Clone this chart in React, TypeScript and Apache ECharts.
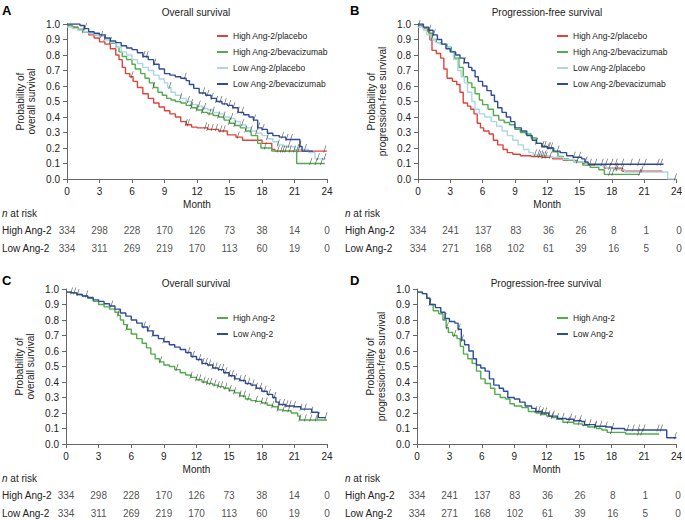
import React, { useEffect, useRef } from "react";
import * as echarts from "echarts";

type Pt = [number, number];

// ---------- tick labels / categories ----------
const monthTicks = [0, 3, 6, 9, 12, 15, 18, 21, 24];

// ---------- Panel A: overall survival by Ang-2 and treatment ----------
const osHighPlacebo: Pt[] = [[0,0.99],[0.5,0.98],[1,0.965],[1.5,0.95],[2,0.93],[2.5,0.91],[3,0.885],[3.5,0.87],[4,0.84],[4.5,0.80],[4.8,0.77],[5.1,0.72],[5.4,0.68],[5.8,0.66],[6.1,0.63],[6.5,0.59],[7,0.55],[7.5,0.52],[8,0.49],[8.5,0.465],[9,0.44],[9.5,0.42],[10,0.40],[10.5,0.37],[11,0.35],[11.5,0.335],[12,0.33],[13,0.32],[14,0.31],[14.8,0.285],[15.6,0.27],[16.2,0.25],[18,0.23],[18.9,0.19],[19.2,0.18],[24,0.18]];
const osHighBev: Pt[] = [[0,0.99],[0.5,0.98],[1,0.965],[1.5,0.95],[2,0.94],[2.5,0.93],[3,0.92],[3.5,0.90],[4,0.875],[4.5,0.85],[4.8,0.82],[5.1,0.79],[5.5,0.77],[6,0.74],[6.3,0.71],[6.8,0.68],[7.2,0.65],[7.6,0.62],[8,0.59],[8.4,0.56],[8.8,0.54],[9.2,0.52],[9.6,0.51],[10,0.50],[10.5,0.49],[11,0.475],[11.5,0.46],[12,0.445],[12.5,0.43],[13,0.42],[13.5,0.41],[14,0.40],[14.5,0.38],[15,0.36],[15.5,0.345],[16,0.33],[16.5,0.31],[17,0.28],[17.6,0.23],[17.9,0.20],[18.9,0.18],[21.2,0.10],[23.8,0.10]];
const osLowPlacebo: Pt[] = [[0,0.98],[0.5,0.97],[1,0.96],[1.5,0.95],[2,0.94],[2.5,0.93],[3,0.92],[3.5,0.90],[4,0.88],[4.5,0.85],[5,0.82],[5.5,0.80],[6,0.77],[6.5,0.745],[7,0.72],[7.5,0.70],[8,0.67],[8.5,0.645],[9,0.62],[9.3,0.59],[9.6,0.56],[10,0.54],[10.5,0.52],[11,0.50],[11.5,0.48],[12,0.47],[12.5,0.455],[13,0.445],[13.5,0.43],[14,0.42],[14.5,0.40],[15,0.39],[15.5,0.37],[16,0.35],[16.5,0.33],[17,0.31],[17.5,0.295],[18,0.28],[18.5,0.26],[19,0.24],[19.5,0.22],[20,0.21],[21,0.19],[22.3,0.17],[22.9,0.13],[23.9,0.13]];
const osLowBev: Pt[] = [[0,1.0],[1.2,0.99],[1.6,0.97],[2,0.95],[2.5,0.94],[3,0.93],[3.5,0.91],[4,0.89],[4.5,0.88],[5,0.86],[5.5,0.845],[6,0.835],[6.5,0.815],[7,0.79],[7.5,0.77],[8,0.74],[8.5,0.71],[9,0.68],[9.5,0.67],[10,0.66],[10.5,0.65],[11,0.635],[11.3,0.61],[11.7,0.585],[12.2,0.555],[12.8,0.54],[13.3,0.52],[13.8,0.50],[14.3,0.485],[14.8,0.475],[15.3,0.46],[15.8,0.43],[16.3,0.415],[16.8,0.40],[17.2,0.38],[17.6,0.33],[18,0.32],[18.5,0.295],[19,0.28],[19.6,0.27],[20.2,0.255],[21.5,0.21],[21.7,0.18],[22.7,0.18]];

// ---------- Panel B: progression-free survival by Ang-2 and treatment ----------
const pfsHighPlacebo: Pt[] = [[0,0.99],[0.5,0.975],[0.9,0.95],[1.1,0.90],[1.3,0.83],[1.7,0.81],[2.1,0.78],[2.4,0.71],[2.7,0.65],[3.2,0.63],[3.6,0.61],[3.9,0.56],[4.2,0.49],[4.6,0.47],[4.9,0.45],[5.2,0.42],[5.5,0.36],[5.8,0.33],[6.1,0.31],[6.6,0.29],[7.0,0.25],[7.4,0.22],[7.9,0.19],[8.3,0.17],[8.8,0.16],[9.5,0.15],[10.5,0.145],[11.5,0.14],[12.5,0.13],[13.5,0.12],[14.5,0.11],[15.3,0.10],[15.6,0.09],[17.3,0.07],[19,0.05],[22.7,0.05]];
const pfsHighBev: Pt[] = [[0,0.99],[0.5,0.97],[1,0.94],[1.3,0.90],[1.7,0.88],[2.2,0.87],[2.7,0.85],[3.1,0.82],[3.4,0.78],[3.8,0.72],[4.2,0.66],[4.6,0.62],[5,0.59],[5.3,0.55],[5.7,0.51],[6,0.48],[6.5,0.45],[7,0.41],[7.5,0.38],[8,0.365],[8.5,0.35],[9,0.32],[9.5,0.30],[10,0.29],[10.5,0.265],[11,0.23],[11.5,0.21],[12,0.20],[12.5,0.175],[13,0.145],[13.5,0.13],[14,0.12],[14.8,0.11],[15.3,0.09],[16,0.075],[16.8,0.06],[17.3,0.03],[20.6,0.03]];
const pfsLowPlacebo: Pt[] = [[0,0.98],[0.5,0.96],[0.8,0.93],[1.2,0.90],[1.6,0.88],[2.0,0.87],[2.6,0.85],[3.0,0.82],[3.3,0.77],[3.7,0.70],[4.0,0.66],[4.3,0.62],[4.6,0.56],[5.0,0.50],[5.3,0.45],[5.7,0.42],[6.2,0.40],[6.8,0.37],[7.3,0.34],[7.8,0.31],[8.3,0.28],[8.8,0.25],[9.3,0.22],[9.8,0.19],[10.3,0.17],[10.7,0.155],[11.5,0.15],[12.3,0.14],[13.5,0.125],[14.5,0.11],[15.5,0.095],[16.5,0.085],[17.5,0.07],[18.2,0.06],[19.2,0.045],[23.2,0.0],[24,0.0]];
const pfsLowBev: Pt[] = [[0,1.0],[0.5,0.98],[1,0.96],[1.4,0.93],[1.8,0.90],[2.2,0.87],[2.6,0.84],[3.0,0.82],[3.5,0.80],[3.9,0.78],[4.3,0.75],[4.7,0.72],[5.0,0.70],[5.3,0.66],[5.6,0.63],[6.0,0.60],[6.4,0.57],[6.8,0.54],[7.1,0.50],[7.4,0.46],[7.8,0.43],[8.2,0.40],[8.6,0.37],[9.0,0.33],[9.6,0.31],[10.1,0.28],[10.6,0.25],[11.0,0.23],[11.5,0.21],[12.0,0.20],[12.6,0.18],[13.2,0.17],[13.8,0.15],[14.4,0.14],[15.2,0.13],[15.5,0.11],[15.8,0.095],[22.8,0.095]];

// ---------- Panel C: overall survival by Ang-2 ----------
const osHigh: Pt[] = [[0,0.98],[0.5,0.975],[1,0.965],[1.5,0.955],[2,0.94],[2.5,0.92],[3,0.90],[3.5,0.885],[4,0.87],[4.5,0.85],[4.8,0.83],[5.0,0.80],[5.3,0.77],[5.6,0.74],[6,0.71],[6.5,0.68],[7,0.65],[7.4,0.62],[7.8,0.58],[8.2,0.55],[8.6,0.53],[9,0.51],[9.5,0.50],[10,0.48],[10.5,0.46],[11,0.445],[11.5,0.43],[12,0.415],[12.5,0.40],[13,0.39],[13.5,0.38],[14,0.37],[14.5,0.36],[15,0.345],[15.5,0.33],[16,0.31],[16.5,0.29],[17,0.28],[17.5,0.275],[18,0.265],[18.5,0.25],[19,0.24],[19.5,0.22],[20,0.215],[20.7,0.20],[21.3,0.18],[21.5,0.155],[24,0.155]];
const osLow: Pt[] = [[0,0.98],[0.5,0.975],[1,0.965],[1.5,0.955],[2,0.945],[2.5,0.93],[3,0.92],[3.5,0.905],[4,0.89],[4.5,0.87],[5,0.845],[5.5,0.825],[6,0.80],[6.5,0.78],[7,0.755],[7.5,0.73],[8,0.70],[8.5,0.68],[9,0.66],[9.5,0.64],[10,0.625],[10.5,0.61],[11,0.59],[11.5,0.565],[12,0.545],[12.5,0.52],[13,0.51],[13.5,0.49],[14,0.48],[14.5,0.46],[15,0.44],[15.5,0.42],[16,0.41],[16.5,0.39],[17,0.38],[17.5,0.36],[18,0.34],[18.5,0.32],[19,0.30],[19.3,0.27],[19.6,0.255],[20.2,0.245],[21,0.24],[21.6,0.225],[22.6,0.205],[23.2,0.17],[23.9,0.17]];

// ---------- Panel D: progression-free survival by Ang-2 ----------
const pfsHigh: Pt[] = [[0,0.98],[0.5,0.97],[0.9,0.94],[1.2,0.90],[1.5,0.86],[2,0.84],[2.4,0.80],[2.7,0.75],[2.9,0.72],[3.3,0.70],[3.7,0.68],[4,0.63],[4.3,0.58],[4.7,0.55],[5.1,0.52],[5.5,0.47],[5.9,0.42],[6.3,0.39],[6.8,0.36],[7.2,0.32],[7.7,0.30],[8.2,0.29],[8.6,0.26],[9.0,0.245],[9.7,0.235],[10.3,0.21],[11,0.20],[11.5,0.19],[12,0.18],[12.5,0.17],[13,0.16],[13.5,0.14],[14.5,0.13],[15.3,0.12],[15.8,0.11],[16.6,0.10],[17.1,0.09],[17.6,0.075],[19.3,0.065],[22.4,0.065]];
const pfsLow: Pt[] = [[0,0.98],[0.5,0.97],[0.9,0.94],[1.2,0.90],[1.7,0.88],[2.2,0.85],[2.6,0.81],[3.0,0.79],[3.5,0.78],[3.8,0.74],[4.1,0.67],[4.4,0.64],[4.8,0.60],[5.2,0.55],[5.5,0.51],[5.9,0.49],[6.3,0.47],[6.7,0.42],[7.1,0.38],[7.6,0.36],[8,0.34],[8.4,0.30],[9,0.29],[9.5,0.27],[10,0.245],[10.6,0.23],[11,0.21],[11.6,0.20],[12.2,0.18],[13,0.165],[13.8,0.16],[14.5,0.15],[15.2,0.145],[15.5,0.125],[16.5,0.115],[17.5,0.11],[18,0.10],[19.2,0.09],[23.1,0.04],[24,0.04]];

// ---------- censoring times (months) ----------
const cOsHighPlacebo = [6.0, 11.0, 11.2, 12.8, 13.0, 13.4, 13.8, 14.2, 14.5, 15.8, 19.8, 20.2, 20.6, 21.0, 21.4, 23.8];
const cOsHighBev = [3.2, 8.0, 11.5, 12.0, 12.5, 13.2, 14.0, 15.0, 15.5, 16.5, 18.3, 19.5, 20.0, 22.5, 23.0, 23.5];
const cOsLowPlacebo = [1.5, 3.5, 4.0, 9.5, 10.5, 11.2, 11.5, 12.2, 12.7, 13.5, 14.5, 15.2, 16.2, 17.0, 17.5, 18.5, 19.5, 20.5, 21.3, 22.0, 23.2, 23.8];
const cOsLowBev = [1.7, 7.1, 7.4, 8.1, 10.9, 12.6, 13.0, 13.4, 13.8, 14.2, 14.6, 15.0, 15.4, 15.8, 16.2, 17.3, 17.7, 18.1, 19.9, 20.3, 20.7, 21.5];
const cPfsHighPlacebo = [0.1, 11.3, 11.6, 11.9, 12.3, 14.8, 17.8, 18.4, 20.8];
const cPfsHighBev = [1.3, 11.6, 12.2, 17.8, 18.1, 20.6];
const cPfsLowPlacebo = [10.9, 11.2, 11.5, 11.8, 18.5, 19.0, 23.9];
const cPfsLowBev = [1.1, 1.5, 4.3, 11.0, 11.8, 12.1, 12.4, 13.0, 14.5, 15.0, 15.6, 16.0, 16.5, 17.1, 17.5, 18.0, 18.4, 19.0, 19.8, 20.5, 21.1, 22.3, 22.6];
const cOsHigh = [4.8, 5.6, 8.7, 10.2, 11.5, 12.0, 12.3, 12.7, 13.0, 13.3, 13.7, 14.0, 14.3, 14.7, 15.1, 15.5, 16.0, 16.4, 16.8, 17.5, 18.0, 18.4, 19.0, 19.5, 20.0, 20.5, 21.5, 22.0, 22.5, 23.0];
const cOsLow = [0.5, 0.8, 1.1, 1.9, 4.2, 7.2, 7.6, 8.0, 9.0, 11.3, 11.7, 12.3, 12.6, 12.9, 13.2, 13.5, 13.8, 14.1, 14.4, 14.7, 15.0, 15.3, 15.6, 16.0, 16.4, 16.8, 17.2, 17.5, 17.9, 18.3, 18.7, 19.2, 19.6, 20.0, 20.3, 20.6, 21.0, 21.6, 22.0, 22.6, 23.2, 23.9];
const cPfsHigh = [2.8, 3.5, 11.5, 12.5, 14.0, 15.0, 16.5, 18.0, 20.5, 20.8];
const cPfsLow = [1.2, 2.6, 3.9, 4.2, 11.0, 11.3, 11.6, 11.9, 12.2, 12.6, 13.0, 13.5, 14.2, 14.6, 15.1, 15.5, 16.0, 16.5, 17.0, 17.5, 18.1, 19.5, 20.0, 20.5, 21.0, 22.3, 22.6, 23.9];

// ---------- numbers at risk ----------
const riskOsHigh = [334, 298, 228, 170, 126, 73, 38, 14, 0];
const riskOsLow = [334, 311, 269, 219, 170, 113, 60, 19, 0];
const riskPfsHigh = [334, 241, 137, 83, 36, 26, 8, 1, 0];
const riskPfsLow = [334, 271, 168, 102, 61, 39, 16, 5, 0];

// ---------- names ----------
const fourNames = ["High Ang-2/placebo", "High Ang-2/bevacizumab", "Low Ang-2/placebo", "Low Ang-2/bevacizumab"];
const twoNames = ["High Ang-2", "Low Ang-2"];

const RED = "#e0433c";
const GREEN = "#52ad4c";
const LIGHT = "#a9d7e6";
const NAVY = "#2d4c9c";
const FONT = "'Liberation Sans', Arial, Helvetica, sans-serif";
const TXT = "#222";
const AXIS = "#666";

function stepAt(curve: Pt[], t: number): number {
  let y = curve[0][1];
  for (const [x, v] of curve) {
    if (x <= t) y = v;
    else break;
  }
  return y;
}

interface PanelDef {
  left: number; top: number; width: number; height: number;
  yName: string; curves: Pt[][]; censors: number[][]; colors: string[]; names: string[];
  legendLeft: number; legendTop: number;
  riskTop: number; riskHigh: number[]; riskLow: number[];
}

const H = 155;
const panels: PanelDef[] = [
  { left: 67, top: 24, width: 260, height: H, yName: "Probability of\noverall survival",
    curves: [osHighPlacebo, osHighBev, osLowPlacebo, osLowBev],
    censors: [cOsHighPlacebo, cOsHighBev, cOsLowPlacebo, cOsLowBev],
    colors: [RED, GREEN, LIGHT, NAVY], names: fourNames, legendLeft: 212, legendTop: 25,
    riskTop: 230, riskHigh: riskOsHigh, riskLow: riskOsLow },
  { left: 418, top: 24, width: 261, height: H, yName: "Probability of\nprogression-free survival",
    curves: [pfsHighPlacebo, pfsHighBev, pfsLowPlacebo, pfsLowBev],
    censors: [cPfsHighPlacebo, cPfsHighBev, cPfsLowPlacebo, cPfsLowBev],
    colors: [RED, GREEN, LIGHT, NAVY], names: fourNames, legendLeft: 552, legendTop: 25,
    riskTop: 230, riskHigh: riskPfsHigh, riskLow: riskPfsLow },
  { left: 66, top: 289, width: 261, height: H, yName: "Probability of\noverall survival",
    curves: [osHigh, osLow], censors: [cOsHigh, cOsLow],
    colors: [GREEN, NAVY], names: twoNames, legendLeft: 212, legendTop: 307,
    riskTop: 495, riskHigh: riskOsHigh, riskLow: riskOsLow },
  { left: 417, top: 289, width: 261, height: H, yName: "Probability of\nprogression-free survival",
    curves: [pfsHigh, pfsLow], censors: [cPfsHigh, cPfsLow],
    colors: [GREEN, NAVY], names: twoNames, legendLeft: 552, legendTop: 307,
    riskTop: 495, riskHigh: riskPfsHigh, riskLow: riskPfsLow },
];

const titles = [
  { text: "Overall survival", x: 196, y: 12 },
  { text: "Progression-free survival", x: 547, y: 12 },
  { text: "Overall survival", x: 196, y: 283 },
  { text: "Progression-free survival", x: 546, y: 283 },
];
const letters = [
  { text: "A", x: 2, y: 10 },
  { text: "B", x: 350, y: 10 },
  { text: "C", x: 2, y: 280 },
  { text: "D", x: 350, y: 280 },
];
const tableLabelX = [2, 345];

const CENSOR = "path://M2.3,0 L3,0 L0.7,10 L0,10 Z";

function buildOption() {
  const grid: any[] = [];
  const xAxis: any[] = [];
  const yAxis: any[] = [];
  const series: any[] = [];
  const legend: any[] = [];
  const graphic: any[] = [];

  panels.forEach((p, i) => {
    const gi = grid.length;
    grid.push({ left: p.left, top: p.top, width: p.width, height: p.height, containLabel: false });
    xAxis.push({
      gridIndex: gi, type: "value", min: 0, max: 24, interval: 3,
      name: "Month", nameLocation: "middle", nameGap: 20,
      nameTextStyle: { fontFamily: FONT, fontSize: 10, color: TXT },
      axisLine: { lineStyle: { color: AXIS, width: 1 } },
      axisTick: { show: true, length: 4, lineStyle: { color: AXIS } },
      axisLabel: { fontFamily: FONT, fontSize: 10, color: TXT, margin: 7 },
      splitLine: { show: false },
    });
    yAxis.push({
      gridIndex: gi, type: "value", min: 0, max: 1, interval: 0.1,
      name: p.yName, nameLocation: "middle", nameGap: 30, nameRotate: 90,
      nameTextStyle: { fontFamily: FONT, fontSize: 10, color: TXT, lineHeight: 11 },
      axisLine: { show: true, lineStyle: { color: AXIS, width: 1 } },
      axisTick: { show: true, length: 4, lineStyle: { color: AXIS } },
      axisLabel: { fontFamily: FONT, fontSize: 10, color: TXT, margin: 7, formatter: (v: number) => v.toFixed(1) },
      splitLine: { show: false },
    });
    p.curves.forEach((c, k) => {
      series.push({
        type: "line", name: p.names[k], xAxisIndex: gi, yAxisIndex: gi,
        step: "end", symbol: "none", showSymbol: false, data: c,
        lineStyle: { color: p.colors[k], width: 1.4 }, itemStyle: { color: p.colors[k] },
        z: 2 + k,
      });
    });
    p.curves.forEach((c, k) => {
      series.push({
        type: "scatter", name: "censor-" + i + "-" + k, xAxisIndex: gi, yAxisIndex: gi,
        symbol: CENSOR, symbolSize: [3, 7], symbolOffset: [0, -2],
        itemStyle: { color: "#3a3a3a" }, silent: true, z: 10, clip: false,
        data: p.censors[k].map((t) => [t, stepAt(c, t)]),
      });
    });
    legend.push({
      left: p.legendLeft, top: p.legendTop, orient: "vertical", data: p.names,
      icon: "rect", itemWidth: 11, itemHeight: 2, itemGap: 4, selectedMode: false,
      textStyle: { fontFamily: FONT, fontSize: 8.5, color: TXT, lineHeight: 12 },
    });

    // risk table grid
    const ri = grid.length;
    grid.push({ left: p.left, top: p.riskTop, width: p.width, height: 18 });
    xAxis.push({ gridIndex: ri, type: "value", min: 0, max: 24, show: false });
    yAxis.push({ gridIndex: ri, type: "value", min: 0, max: 1, show: false });
    const rows = [
      { v: 1, arr: p.riskHigh },
      { v: 0, arr: p.riskLow },
    ];
    rows.forEach((r, k) => {
      series.push({
        type: "scatter", name: "risk-" + i + "-" + k, xAxisIndex: ri, yAxisIndex: ri,
        symbolSize: 1, itemStyle: { color: "rgba(0,0,0,0)" }, silent: true, clip: false,
        data: monthTicks.map((m, j) => [m, r.v, r.arr[j]]),
        label: {
          show: true, position: "inside", fontFamily: FONT, fontSize: 10, color: TXT,
          formatter: (q: any) => String(q.value[2]),
        },
      });
    });
  });

  titles.forEach((t) => {
    graphic.push({ type: "text", x: t.x, y: t.y, style: { text: t.text, fontFamily: FONT, fontSize: 10, fill: TXT, textAlign: "center", textVerticalAlign: "middle" } });
  });
  letters.forEach((t) => {
    graphic.push({ type: "text", x: t.x, y: t.y, style: { text: t.text, fontFamily: FONT, fontSize: 13, fontWeight: "bold", fill: "#000", textAlign: "left", textVerticalAlign: "middle" } });
  });
  [[0, 1], [2, 3]].forEach((pair) => {
    pair.forEach((pi, side) => {
      const p = panels[pi];
      const x = tableLabelX[side];
      graphic.push({ type: "text", x, y: p.riskTop - 17, style: { text: "{i|n} at risk", rich: { i: { fontStyle: "italic", fontFamily: FONT, fontSize: 10, fill: TXT } }, fontFamily: FONT, fontSize: 10, fill: TXT, textAlign: "left", textVerticalAlign: "middle" } });
      graphic.push({ type: "text", x, y: p.riskTop, style: { text: "High Ang-2", fontFamily: FONT, fontSize: 10, fill: TXT, textAlign: "left", textVerticalAlign: "middle" } });
      graphic.push({ type: "text", x, y: p.riskTop + 18, style: { text: "Low Ang-2", fontFamily: FONT, fontSize: 10, fill: TXT, textAlign: "left", textVerticalAlign: "middle" } });
    });
  });

  return { animation: false, backgroundColor: "#fff", grid, xAxis, yAxis, series, legend, graphic };
}

export default function App() {
  const ref = useRef<HTMLDivElement>(null);
  useEffect(() => {
    document.body.style.margin = "0";
    if (!ref.current) return;
    const chart = echarts.init(ref.current, undefined, { renderer: "svg" });
    chart.setOption(buildOption() as any);
    return () => chart.dispose();
  }, []);
  return <div ref={ref} style={{ width: 685, height: 520 }} />;
}
